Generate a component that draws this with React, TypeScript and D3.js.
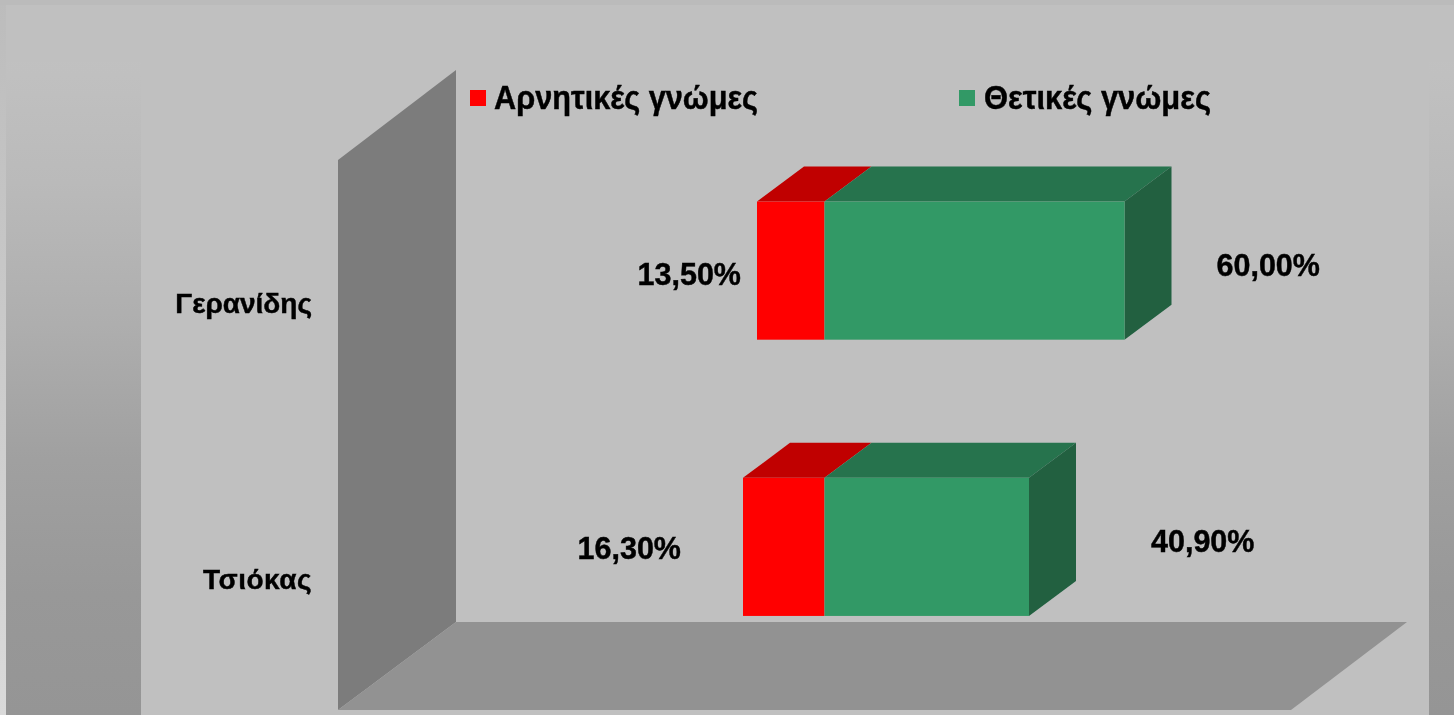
import React from "react";
import * as d3 from "d3";

const categories = ["Γερανίδης", "Τσιόκας"];
const negativeValues = [13.5, 16.3];
const positiveValues = [60.0, 40.9];
const negativeLabels = ["13,50%", "16,30%"];
const positiveLabels = ["60,00%", "40,90%"];
const legendLabels = ["Αρνητικές γνώμες", "Θετικές γνώμες"];

const W = 1454;
const H = 715;
const DX = 47;
const DY = -35;
const FONT = "'Liberation Sans', Arial, sans-serif";
const negGap = [16, 62];
const negDrop = [83, 81];
const posGap = [92, 122];

const x = d3.scaleLinear().domain([-20, 100]).range([724.5, 1324.5]);
const y = d3
  .scaleBand<string>()
  .domain(categories)
  .range([132.5, 685])
  .paddingInner(0.5)
  .paddingOuter(0.25);

const poly = d3.line();

function Box({ x0, x1, y0, y1, front, top, side }: any) {
  return (
    <g>
      <path d={poly([[x0, y0], [x0 + DX, y0 + DY], [x1 + DX, y0 + DY], [x1, y0]])! + "Z"} fill={top} />
      {side && <path d={poly([[x1, y0], [x1 + DX, y0 + DY], [x1 + DX, y1 + DY], [x1, y1]])! + "Z"} fill={side} />}
      <rect x={x0} y={y0} width={x1 - x0} height={y1 - y0} fill={front} />
    </g>
  );
}

export default function App() {
  return (
    <svg
      width={W}
      height={H}
      style={{ position: "fixed", left: 0, top: 0, display: "block" }}
    >
      <defs>
        <linearGradient id="outer" x1="0" y1="0" x2="0" y2="1">
          <stop offset="0" stopColor="#c2c2c2" />
          <stop offset="0.1" stopColor="#c0c0c0" />
          <stop offset="0.25" stopColor="#bababa" />
          <stop offset="0.45" stopColor="#aeaeae" />
          <stop offset="0.64" stopColor="#a0a0a0" />
          <stop offset="0.83" stopColor="#989898" />
          <stop offset="1" stopColor="#959595" />
        </linearGradient>
        <linearGradient id="edge" x1="0" y1="0" x2="0" y2="1">
          <stop offset="0" stopColor="#bcbcbc" />
          <stop offset="1" stopColor="#dadada" />
        </linearGradient>
        <filter id="soft" x="0" y="0" width="100%" height="100%">
          <feGaussianBlur stdDeviation="0.5" />
        </filter>
      </defs>
      <rect x={0} y={0} width={W} height={H} fill="url(#edge)" />
      <rect x={0} y={0} width={W} height={5} fill="#bbbbbb" />
      <rect x={6} y={5} width={W - 6} height={H - 5} fill="url(#outer)" />
      <rect x={6} y={5} width={W - 6} height={57} fill="#c0c0c0" />
      <rect x={141} y={62} width={1288} height={H - 62} fill="#c0c0c0" />

      <g filter="url(#soft)">
        <path d={poly([[338, 160], [456, 70], [456, 622], [338, 710]])! + "Z"} fill="#7c7c7c" />
        <path d={poly([[456, 622], [1407, 622], [1291, 710], [338, 710]])! + "Z"} fill="#929292" />

        {categories.map((c, i) => {
          const y0 = y(c)!;
          const y1 = y0 + y.bandwidth();
          return (
            <g key={c}>
              <Box x0={x(-negativeValues[i])} x1={x(0)} y0={y0} y1={y1} front="#ff0000" top="#c00000" />
              <Box x0={x(0)} x1={x(positiveValues[i])} y0={y0} y1={y1} front="#339966" top="#26734d" side="#206040" />
            </g>
          );
        })}

        <g fontFamily={FONT} fontWeight={700} fill="#000" stroke="#000" strokeWidth={0.45}>
          {categories.map((c, i) => (
            <text key={c} x={312} y={y(c)! + y.bandwidth() / 2 + 42} textAnchor="end" fontSize={28} letterSpacing={i === 1 ? 0.5 : 0}>
              {c}
            </text>
          ))}
          {categories.map((c, i) => (
            <text key={c} x={x(-negativeValues[i]) - negGap[i]} y={y(c)! + negDrop[i]} textAnchor="end" fontSize={30.5}>
              {negativeLabels[i]}
            </text>
          ))}
          {categories.map((c, i) => (
            <text key={c} x={x(positiveValues[i]) + posGap[i]} y={y(c)! + 74} fontSize={30.5}>
              {positiveLabels[i]}
            </text>
          ))}
          <rect x={470} y={90} width={16} height={16} fill="#ff0000" stroke="none" />
          <text x={494} y={109} fontSize={33} textLength={264} lengthAdjust="spacingAndGlyphs">{legendLabels[0]}</text>
          <rect x={959} y={90} width={16} height={16} fill="#339966" stroke="none" />
          <text x={984} y={109} fontSize={33} textLength={227} lengthAdjust="spacingAndGlyphs">{legendLabels[1]}</text>
        </g>
      </g>
    </svg>
  );
}
